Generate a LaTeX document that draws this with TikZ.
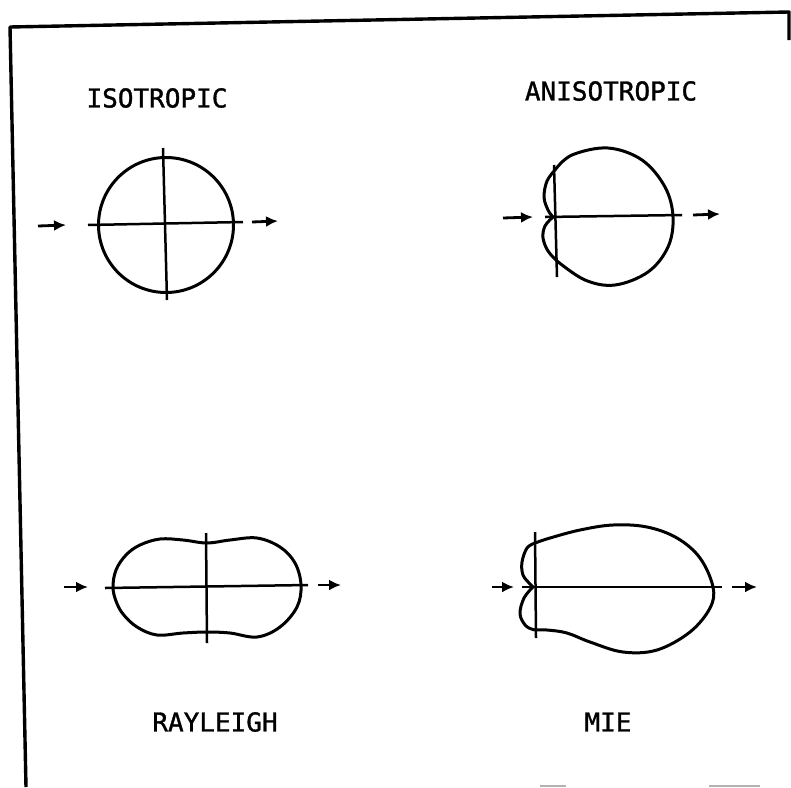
\documentclass[tikz,border=0pt]{standalone}
\usepackage{fontspec}
\newfontfamily\plotterfont[FakeBold=1.2]{DejaVu Sans Mono}
\usetikzlibrary{arrows.meta}

\begin{document}
\begin{tikzpicture}[
    x=1pt, y=-1pt,
    >={Latex[length=12pt, width=11pt]},
    every node/.style={font=\plotterfont\fontsize{26}{30}\selectfont, inner sep=0pt},
    frame/.style={line width=3.4pt, line join=round},
    axis/.style={line width=2.5pt},
    lobe/.style={line width=3pt, smooth, tension=0.6},
    beam/.style={->, line width=2.8pt},
]
\useasboundingbox (0,0) rectangle (791,787);

% Frame (scanned sheet, slightly skewed)
\draw[frame] (789,40) -- (789,12) -- (10,27) -- (26,787);
\draw[gray!60, line width=1.2pt] (540,786) -- (566,786) (709,786) -- (760,786);

% Isotropic
\node (isotitle) at (157,98) {ISOTROPIC};
\draw[line width=3pt] (166,225) circle (67.5);
\draw[axis] (88,225) -- (243,222);
\draw[axis] (163,148) -- (167,300);
\draw[beam] (38,226) -- (66,225);
\draw[beam] (252,222) -- (278,221);

% Anisotropic: forward lobe plus two small backward lobes
\node (anisotitle) at (611,91) {ANISOTROPIC};
\draw[lobe] plot coordinates {
    (555,170) (572,155) (608,148) (642,160) (665,187) (673,217)
    (668,247) (648,272) (615,285) (585,280) (557,261)
};
\draw[lobe] plot coordinates {(555,170) (547,181) (544,197) (548,210) (553,217)};
\draw[lobe] plot coordinates {(553,217) (545,226) (543,238) (548,251) (557,261)};
\draw[axis] (545,217) -- (682,215);
\draw[axis] (554,165) -- (557,277);
\draw[beam] (503,218) -- (533,217);
\draw[beam] (693,215) -- (720,214);

% Rayleigh
\node (rayleightitle) at (215,722) {RAYLEIGH};
\draw[line width=3pt, smooth cycle, tension=0.6] plot coordinates {
    (113,587) (116,570) (126,555) (140,545) (160,539) (183,540) (207,543)
    (230,540) (257,538) (280,547) (295,563) (301,585) (297,607)
    (280,627) (257,637) (230,633) (207,632) (183,633) (157,635)
    (137,627) (123,614) (116,601)
};
\draw[axis] (105,588) -- (308,585);
\draw[axis] (206,533) -- (207,643);
\draw[beam] (64,587) -- (88,587);
\draw[beam] (318,585) -- (341,585);

% Mie
\node (mietitle) at (608,722) {MIE};
\draw[lobe] plot coordinates {
    (535,543) (550,538) (580,530) (613,525) (647,527) (677,538)
    (700,558) (713,587) (710,608) (690,632) (657,650) (623,652)
    (590,642) (567,633) (547,630) (535,630)
};
\draw[lobe] plot coordinates {(535,543) (527,548) (522,562) (523,575) (530,584) (533,587)};
\draw[lobe] plot coordinates {(533,587) (524,598) (520,614) (526,626) (535,630)};
\draw[axis] (522,587) -- (722,587);
\draw[axis] (535,532) -- (536,638);
\draw[beam] (492,587) -- (514,587);
\draw[beam] (732,587) -- (757,587);

\end{tikzpicture}
\end{document}
